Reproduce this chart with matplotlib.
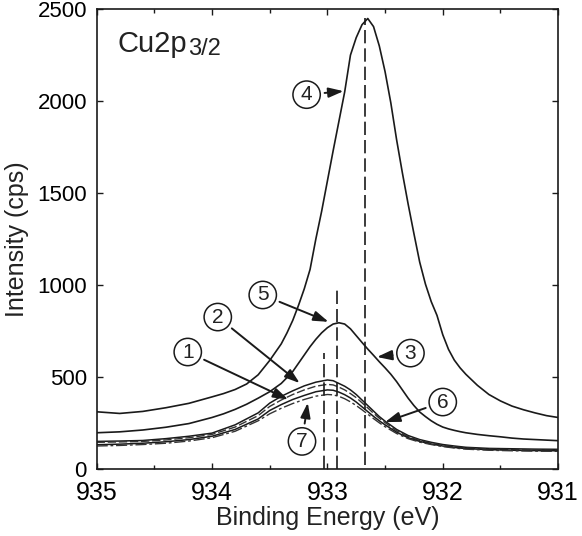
import matplotlib
matplotlib.use("Agg")
import matplotlib.pyplot as plt
from matplotlib.ticker import MultipleLocator

plt.rcParams['font.family'] = ['Liberation Sans', 'DejaVu Sans']
plt.rcParams['mathtext.default'] = 'regular'

# Binding energy grids (eV)
energy_fine = [935.0, 934.8, 934.6, 934.4, 934.2, 934.0, 933.9, 933.8, 933.7, 933.6,
               933.5, 933.4, 933.35, 933.3, 933.25, 933.2, 933.15, 933.1, 933.05, 933.0,
               932.95, 932.9, 932.85, 932.8, 932.75, 932.7, 932.65, 932.6, 932.55, 932.5,
               932.45, 932.4, 932.35, 932.3, 932.25, 932.2, 932.15, 932.1, 932.05, 932.0,
               931.95, 931.9, 931.85, 931.8, 931.7, 931.6, 931.5, 931.4, 931.3, 931.2,
               931.1, 931.0]
energy = [935.0, 934.8, 934.6, 934.4, 934.2, 934.0, 933.8, 933.6, 933.5, 933.4,
          933.3, 933.2, 933.1, 933.0, 932.95, 932.9, 932.85, 932.8, 932.75, 932.7,
          932.65, 932.6, 932.55, 932.5, 932.4, 932.3, 932.2, 932.1, 932.0, 931.9,
          931.8, 931.6, 931.4, 931.2, 931.0]

# Intensity (cps) – spectra 4 and 3/5 on the fine grid
s4 = [311, 302, 313, 333, 357, 392, 410, 432, 462, 512,
      590, 680, 740, 808, 890, 980, 1085, 1250, 1400, 1565,
      1730, 1890, 2050, 2250, 2345, 2415, 2449, 2405, 2300, 2160,
      1990, 1790, 1610, 1440, 1280, 1125, 1005, 910, 835, 730,
      650, 592, 550, 515, 455, 405, 370, 342, 322, 305,
      290, 280]
s3 = [197, 202, 212, 227, 247, 280, 300, 324, 352, 385,
      420, 465, 497, 530, 575, 620, 665, 705, 740, 768,
      788, 795, 788, 762, 725, 688, 652, 618, 583, 550,
      515, 475, 430, 385, 345, 310, 285, 262, 243, 228,
      218, 210, 203, 197, 188, 181, 175, 168, 163, 160,
      157, 154]
# spectra 2, 6, 1, 7 on the coarse grid
s2 = [150, 152, 155, 165, 178, 195, 240, 305, 358, 395,
      425, 452, 472, 484, 480, 465, 450, 430, 405, 375,
      345, 315, 285, 260, 215, 182, 160, 145, 133, 125,
      118, 112, 110, 108, 107]
s6 = [145, 147, 150, 158, 170, 188, 228, 290, 340, 375,
      405, 430, 450, 460, 457, 445, 430, 410, 388, 360,
      332, 303, 276, 252, 208, 176, 155, 140, 128, 120,
      114, 108, 105, 103, 102]
s1 = [132, 135, 140, 148, 160, 178, 215, 272, 318, 350,
      378, 400, 420, 430, 428, 418, 404, 386, 364, 338,
      312, 286, 262, 240, 200, 170, 150, 136, 125, 117,
      111, 105, 102, 100, 99]
s7 = [125, 128, 133, 140, 152, 170, 205, 262, 300, 330,
      356, 378, 396, 405, 403, 395, 382, 365, 345, 322,
      298, 274, 251, 230, 193, 165, 146, 133, 122, 114,
      108, 102, 99, 97, 96]

# Peak position markers (eV), bottom and top ends (cps)
peak_pos = [933.03, 932.92, 932.67]
peak_bot = [0, 0, 20]
peak_top = [630, 985, 2449]

fig = plt.figure(figsize=(5.82, 5.36), dpi=100)
ax = fig.add_axes([0.166, 0.125, 0.793, 0.858])

ink = '#1a1a1a'
ax.plot(energy_fine, s4, color=ink, lw=1.2)
ax.plot(energy_fine, s3, color=ink, lw=1.2)
ax.plot(energy, s2, color=ink, lw=1.1)
ax.plot(energy, s6, color='#333', lw=1.0, dashes=(6, 2))
ax.plot(energy, s1, color=ink, lw=1.1)
ax.plot(energy, s7, color='#333', lw=1.0, dashes=(8, 2, 2, 2))

for p, b, t in zip(peak_pos, peak_bot, peak_top):
    ax.plot([p, p], [b, t], color=ink, lw=1.2, dashes=(8, 3))

ax.set_xlim(935, 931)
ax.set_ylim(0, 2500)
ax.xaxis.set_major_locator(MultipleLocator(1))
ax.xaxis.set_minor_locator(MultipleLocator(0.5))
ax.yaxis.set_major_locator(MultipleLocator(500))
ax.tick_params(which='both', direction='in', top=True, right=True, color=ink)
ax.tick_params(axis='x', labelsize=18, pad=9)
ax.tick_params(axis='y', labelsize=16, pad=7)
ax.tick_params(which='major', length=4, width=1.0)
ax.tick_params(which='minor', length=3, width=1.0)
for sp in ax.spines.values():
    sp.set_linewidth(1.2)
    sp.set_color(ink)

ax.set_xlabel('Binding Energy (eV)', fontsize=18, labelpad=0, color='#222')
ax.set_ylabel('Intensity (cps)', fontsize=18, labelpad=6, color='#222')

t_main = ax.text(0.046, 0.9065, 'Cu2p', transform=ax.transAxes,
                 fontsize=21, va='baseline', ha='left', color='#222')
ax.annotate('3/2', xy=(1.0, 0.0), xycoords=t_main, xytext=(0.5, -1.5),
            textcoords='offset points', fontsize=17, va='bottom', ha='left',
            color='#222')

circ = dict(boxstyle='circle,pad=0.2', fc='white', ec=ink, lw=1.1)
arr = dict(arrowstyle='-|>,head_length=0.9,head_width=0.3', color=ink,
           lw=1.4, shrinkB=0)

# (label, circle position, arrow tip)
annots = [
    ('1', (934.21, 636), (933.34, 378)),
    ('2', (933.95, 826), (933.24, 467)),
    ('3', (932.28, 630), (932.57, 609)),
    ('4', (933.18, 2035), (932.86, 2054)),
    ('5', (933.56, 946), (932.99, 800)),
    ('6', (932.00, 364), (932.50, 255)),
    ('7', (933.22, 150), (933.17, 360)),
]
for lab, (cx, cy), (tx, ty) in annots:
    ax.annotate('', xy=(tx, ty), xytext=(cx, cy),
                arrowprops=dict(arr, shrinkA=13))
    ax.text(cx, cy, lab, fontsize=15, ha='center', va='center', bbox=circ,
            color='#222')

fig.savefig('out.png', dpi=100)
